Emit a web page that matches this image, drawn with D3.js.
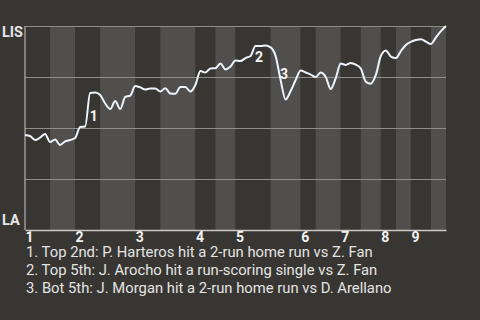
<!DOCTYPE html>
<html lang="en">
<head>
    <meta charset="UTF-8">
    <title>Win probability</title>
    <script src="https://cdn.jsdelivr.net/npm/d3@7"></script>
    <style>
        body { margin: 0; background: #383632; }
        svg { display: block; font-family: Roboto, "Noto Sans", sans-serif; }
    </style>
</head>
<body>
    <svg id="chart" width="480" height="320"></svg>
    <script>
        // plays per half inning (top, bottom, top, bottom...)
        const halfInningPlays = [5, 5, 5, 7, 5, 7, 4, 4, 7, 6, 3, 5, 4, 4, 3, 3, 4, 3];
        const innings = ["1", "2", "3", "4", "5", "6", "7", "8", "9"];
        const teams = ["LIS", "LA"];

        // LIS win probability (%) after each play
        const winProb = [
            46.6, 46.1, 44.1, 45.3, 47.1, 43.1, 44.4, 41.7, 43.4, 44.1,
            45.1, 50.5, 50.7, 67.2, 67.4, 66.2, 62.0, 59.3, 63.2, 59.3,
            65.2, 65.9, 70.6, 69.9, 68.9, 69.4, 69.4, 67.9, 69.5, 66.9,
            66.8, 70.1, 70.1, 67.9, 71.1, 77.9, 77.2, 79.2, 79.3, 81.6,
            78.7, 80.1, 83.1, 82.8, 84.3, 85.3, 90.2, 90.2, 90.4, 89.5,
            85.3, 73.5, 64.0, 68.1, 73.5, 78.2, 77.2, 76.2, 75.0, 77.2,
            75.0, 69.1, 74.5, 81.6, 80.9, 81.9, 81.1, 79.2, 72.7, 71.7,
            76.0, 85.3, 88.0, 85.0, 84.3, 87.7, 90.7, 92.2, 93.1, 93.5,
            92.3, 91.2, 94.4, 97.5, 100
        ];

        const eventLabels = ["1", "2", "3"];
        const eventPlays = [13, 46, 51];
        const notes = [
            "1. Top 2nd: P. Harteros hit a 2-run home run vs Z. Fan",
            "2. Top 5th: J. Arocho hit a run-scoring single vs Z. Fan",
            "3. Bot 5th: J. Morgan hit a 2-run home run vs D. Arellano"
        ];

        const margin = {top: 26, right: 34, bottom: 90, left: 25};
        const width = 480 - margin.left - margin.right;
        const height = 320 - margin.top - margin.bottom;

        const svg = d3.select("#chart");
        const g = svg.append("g")
            .attr("transform", "translate(" + margin.left + "," + margin.top + ")");

        const totalPlays = d3.sum(halfInningPlays);
        const x = d3.scaleLinear().domain([0, totalPlays]).range([0, width]);
        const y = d3.scaleLinear().domain([0, 100]).range([height, 0]);

        // half inning stripes
        const starts = [0, ...d3.cumsum(halfInningPlays)];
        g.append("g")
            .selectAll("rect")
            .data(halfInningPlays)
            .enter().append("rect")
            .attr("x", (d, i) => x(starts[i]))
            .attr("y", 0)
            .attr("width", d => x(d) - x(0))
            .attr("height", height)
            .attr("fill", (d, i) => i % 2 ? "#504f4d" : "#383632");

        // gridlines
        g.append("g")
            .call(d3.axisLeft(y).tickValues([25, 50, 75, 100]).tickSize(-width).tickFormat(""))
            .call(s => s.select(".domain").remove())
            .selectAll("line")
            .attr("stroke", "#8e8d8a")
            .attr("stroke-width", 1.2);

        // left axis line
        g.append("line")
            .attr("x1", 0).attr("x2", 0)
            .attr("y1", 0).attr("y2", height)
            .attr("stroke", "#b5b4b2")
            .attr("stroke-width", 1.2);

        // bottom axis with inning starts
        const inningStarts = innings.map((d, i) => starts[i * 2]);
        const xAxis = g.append("g")
            .attr("transform", "translate(0," + height + ")")
            .call(d3.axisBottom(x).tickValues(inningStarts).tickSize(0)
                .tickFormat((d, i) => innings[i]));
        xAxis.select(".domain").attr("stroke", "#c9c9c7").attr("stroke-width", 1.5);
        xAxis.selectAll("text")
            .attr("text-anchor", "start")
            .attr("dy", null)
            .attr("y", 12)
            .attr("fill", "#f2f2f2")
            .style("font-size", "14px")
            .style("font-weight", "bold")
            .style("font-family", "Roboto, sans-serif");

        // team labels
        svg.append("text")
            .attr("x", 2).attr("y", margin.top + y(100) + 11)
            .attr("fill", "#e6e6e6")
            .style("font-size", "14.5px").style("font-weight", "bold")
            .text(teams[0]);
        svg.append("text")
            .attr("x", 2).attr("y", margin.top + y(0) - 5)
            .attr("fill", "#e6e6e6")
            .style("font-size", "14.5px").style("font-weight", "bold")
            .text(teams[1]);

        // win probability line
        const line = d3.line()
            .x((d, i) => x(i))
            .y(d => y(d))
            .curve(d3.curveMonotoneX);

        g.append("path")
            .datum(winProb)
            .attr("fill", "none")
            .attr("stroke", "#eef4fb")
            .attr("stroke-width", 2)
            .attr("stroke-linejoin", "round")
            .attr("d", line);

        // event markers
        g.append("g")
            .selectAll("text")
            .data(eventPlays)
            .enter().append("text")
            .attr("x", d => x(d - 0.5) + 6)
            .attr("y", d => (y(winProb[d - 1]) + y(winProb[d])) / 2 + 6)
            .attr("text-anchor", "middle")
            .attr("dominant-baseline", "central")
            .attr("fill", "#f4f4f4")
            .style("font-size", "14px")
            .style("font-weight", "bold")
            .text((d, i) => eventLabels[i]);

        // notes
        svg.append("g")
            .selectAll("text")
            .data(notes)
            .enter().append("text")
            .attr("x", 26)
            .attr("y", (d, i) => 256.5 + i * 18)
            .attr("fill", "#e4e4e4")
            .style("font-size", "14.8px")
            .text(d => d);
    </script>
</body>
</html>
